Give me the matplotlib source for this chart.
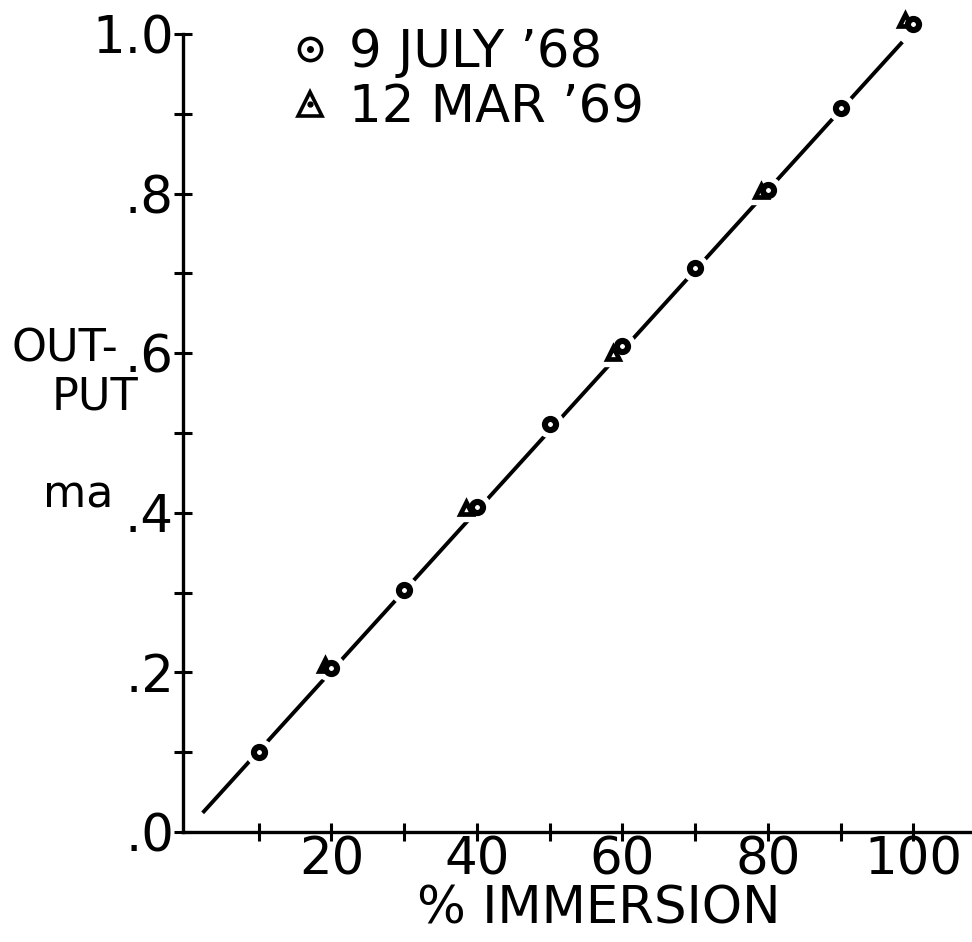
import matplotlib
matplotlib.use("Agg")
import matplotlib.pyplot as plt
from matplotlib.lines import Line2D

# ---- data ----
july68_x = [10, 20, 30, 40, 50, 60, 70, 80, 90, 100]
july68_y = [0.100, 0.205, 0.303, 0.407, 0.511, 0.609, 0.707, 0.805, 0.907, 1.013]
mar69_x = [19.1, 38.5, 58.7, 79.0, 98.8]
mar69_y = [0.209, 0.406, 0.600, 0.803, 1.018]
fit_x = [2.3, 98.5]
fit_y = [0.024, 0.990]

x_ticks = [10, 20, 30, 40, 50, 60, 70, 80, 90, 100]
x_ticklabels = ["", "20", "", "40", "", "60", "", "80", "", "100"]
y_ticks = [0.0, 0.1, 0.2, 0.3, 0.4, 0.5, 0.6, 0.7, 0.8, 0.9, 1.0]
y_ticklabels = [".0", "", ".2", "", ".4", "", ".6", "", ".8", "", "1.0"]
legend_labels = ["9 JULY \u201968", "12 MAR \u201969"]
x_label = "% IMMERSION"

# ---- figure ----
W, H = 972, 942
fig = plt.figure(figsize=(W / 100, H / 100), dpi=100)
plt.rcParams['font.family'] = ['DejaVu Sans']
FS = 37
FS_Y = 32

# axes placed in pixel coordinates
left_px, right_px, bottom_px, top_px = 183, 970, 832, 0
ax = fig.add_axes([left_px / W, (H - bottom_px) / H,
                   (right_px - left_px) / W, (bottom_px - top_px) / H])
ax.set_xlim(-0.4, 107.8)
ax.set_ylim(0.0, 1.0426)

for s in ["top", "right"]:
    ax.spines[s].set_visible(False)
ax.spines["left"].set_bounds(0.0, 1.0)
for s in ["left", "bottom"]:
    ax.spines[s].set_linewidth(2.4)

ax.set_xticks(x_ticks)
ax.set_xticklabels(x_ticklabels)
ax.set_yticks(y_ticks)
ax.set_yticklabels(y_ticklabels)
ax.tick_params(axis="both", direction="inout", length=13, width=2.2,
               labelsize=FS)
ax.tick_params(axis="x", pad=-4)
ax.tick_params(axis="y", pad=0)
for lbl in ax.get_xticklabels():
    lbl.set_x(lbl.get_position()[0])

# fitted line
ax.plot(fit_x, fit_y, color="black", lw=2.8, zorder=1, solid_capstyle="butt")

# white halos to break the line at points
ax.plot(july68_x, july68_y, ls="none", marker="o", ms=19, mfc="white",
        mec="white", zorder=2, clip_on=False)
ax.plot(mar69_x, mar69_y, ls="none", marker="^", ms=19, mfc="white",
        mec="white", zorder=2, clip_on=False)

# data points
ax.plot(mar69_x, mar69_y, ls="none", marker="^", ms=9, mfc="white",
        mec="black", mew=3.4, zorder=3, clip_on=False)
ax.plot(july68_x, july68_y, ls="none", marker="o", ms=8, mfc="white",
        mec="black", mew=4.4, zorder=4, clip_on=False)

# legend
h_circle = Line2D([], [], ls="none", marker="o", ms=16, mfc="white",
                  mec="black", mew=2.6)
h_cdot = Line2D([], [], ls="none", marker="o", ms=4, mfc="black", mec="black")
h_tri = Line2D([], [], ls="none", marker="^", ms=17, mfc="white",
               mec="black", mew=2.6)
h_tdot = Line2D([], [], ls="none", marker="o", ms=3.5, mfc="black",
                mec="black")
leg = ax.legend([(h_circle, h_cdot), (h_tri, h_tdot)], legend_labels,
                loc="upper left", bbox_to_anchor=(295 / W, 1 - 28 / H),
                bbox_transform=fig.transFigure, frameon=False, fontsize=FS,
                handlelength=0.6, handletextpad=0.45, labelspacing=0.1,
                borderpad=0, borderaxespad=0)

# axis labels
fig.text(417 / W, 1 - 910 / H, x_label, fontsize=FS, ha="left", va="center")
fig.text(12 / W, 1 - 349 / H, "OUT-", fontsize=FS_Y, ha="left", va="center")
fig.text(52 / W, 1 - 397 / H, "PUT", fontsize=FS_Y, ha="left", va="center")
fig.text(43 / W, 1 - 507 / H, "ma", fontsize=FS_Y, ha="left", va="baseline")

fig.savefig("out.png", dpi=100, facecolor="white")
